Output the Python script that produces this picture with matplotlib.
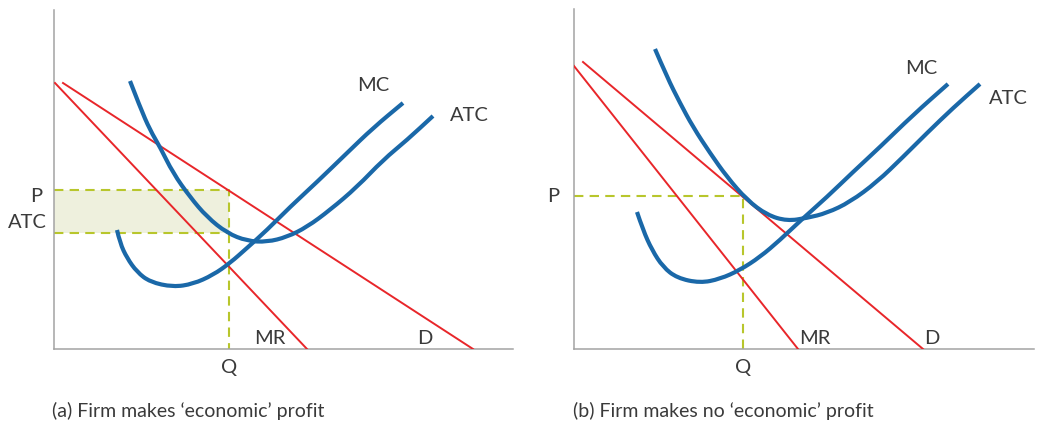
import matplotlib
matplotlib.use("Agg")
import matplotlib.pyplot as plt
from matplotlib.path import Path
from matplotlib.patches import PathPatch

# ---- panel (a): firm makes economic profit ----
a_atc_x = [76, 86, 96, 106, 119, 136, 153, 173, 193, 213, 233, 253, 276, 303, 329, 353, 379]
a_atc_y = [268, 242, 219, 202, 176, 152, 132, 116, 108, 107, 112, 122, 139, 162, 189, 209, 233]
a_mc_x = [63, 66, 73, 83, 96, 119, 139, 159, 176, 193, 213, 236, 263, 293, 319, 349]
a_mc_y = [119, 106, 91, 77, 67, 62, 65, 74, 86, 101, 119, 142, 167, 196, 221, 246]
a_d_x, a_d_y = [9, 419], [266, 0]
a_mr_x, a_mr_y = [1, 253], [266, 0]
a_p, a_atc_level, a_q = 159, 116, 175

# ---- panel (b): firm makes no economic profit ----
b_atc_x = [81, 93, 106, 119, 136, 153, 173, 193, 213, 233, 253, 276, 303, 329, 353, 379, 406]
b_atc_y = [300, 272, 246, 222, 196, 172, 149, 134, 128, 131, 136, 147, 167, 192, 216, 241, 265]
b_mc_x = [63, 69, 78, 89, 103, 126, 146, 166, 186, 206, 226, 253, 279, 306, 339, 374]
b_mc_y = [137, 119, 99, 82, 71, 66, 70, 79, 92, 109, 128, 152, 177, 202, 234, 265]
b_d_x, b_d_y = [9, 349], [287, 0]
b_mr_x, b_mr_y = [0, 224], [283, 0]
b_p, b_q = 153, 169

blue = "#1a68a8"
red = "#e8262a"
green = "#b8c62c"
fill = "#eef0dd"
grey = "#a3a3a3"
txt = "#3a3a3a"

plt.rcParams["font.family"] = ["Lato", "DejaVu Sans"]

W, H = 1037, 422
fig = plt.figure(figsize=(W / 100, H / 100), dpi=100)
fig.patch.set_facecolor("white")


def make_ax(left, bottom, width, height):
    ax = fig.add_axes([left / W, (H - bottom) / H, width / W, height / H])
    ax.set_xlim(0, width)
    ax.set_ylim(0, height)
    for s in ["top", "right"]:
        ax.spines[s].set_visible(False)
    for s in ["left", "bottom"]:
        ax.spines[s].set_color(grey)
        ax.spines[s].set_linewidth(1.1)
    ax.set_xticks([])
    ax.set_yticks([])
    ax.patch.set_alpha(0)
    return ax


def smooth_curve(ax, xs, ys, **kw):
    # quadratic bezier through midpoints, so the cost curves come out smooth
    pts = list(zip(xs, ys))
    verts = [pts[0]]
    codes = [Path.MOVETO]
    for i in range(1, len(pts) - 1):
        mid = ((pts[i][0] + pts[i + 1][0]) / 2, (pts[i][1] + pts[i + 1][1]) / 2)
        verts += [pts[i], mid]
        codes += [Path.CURVE3, Path.CURVE3]
    verts.append(pts[-1])
    codes.append(Path.LINETO)
    ax.add_patch(PathPatch(Path(verts, codes), fill=False, **kw))


dash = (0, (4.5, 3))
lab = dict(fontsize=14.5, color=txt, ha="center", va="center")
curve = dict(edgecolor=blue, lw=3, capstyle="butt", joinstyle="round", zorder=4)

# panel (a)
ax1 = make_ax(54, 349, 459, 339)
ax1.fill_between([0, a_q], a_atc_level, a_p, color=fill, lw=0, zorder=1)
ax1.plot([0, a_q, a_q], [a_p, a_p, 0], color=green, lw=1.5, ls=dash, zorder=2)
ax1.plot([0, a_q], [a_atc_level, a_atc_level], color=green, lw=1.5, ls=dash, zorder=2)
ax1.plot(a_mr_x, a_mr_y, color=red, lw=1.4, zorder=3)
ax1.plot(a_d_x, a_d_y, color=red, lw=1.4, zorder=3)
smooth_curve(ax1, a_atc_x, a_atc_y, **curve)
smooth_curve(ax1, a_mc_x, a_mc_y, **curve)
ax1.text(319, 263, "MC", **lab)
ax1.text(415, 233, "ATC", **lab)
ax1.text(216, 11, "MR", **lab)
ax1.text(371, 11, "D", **lab)
ax1.text(a_q, -19, "Q", clip_on=False, **lab)
ax1.text(-18, 152, "P", clip_on=False, **lab)
ax1.text(-27, 126, "ATC", clip_on=False, **lab)

# panel (b)
ax2 = make_ax(574, 349, 460, 340)
ax2.plot([0, b_q, b_q], [b_p, b_p, 0], color=green, lw=1.5, ls=dash, zorder=2)
ax2.plot(b_mr_x, b_mr_y, color=red, lw=1.4, zorder=3)
ax2.plot(b_d_x, b_d_y, color=red, lw=1.4, zorder=3)
smooth_curve(ax2, b_atc_x, b_atc_y, **curve)
smooth_curve(ax2, b_mc_x, b_mc_y, **curve)
ax2.text(347, 281, "MC", **lab)
ax2.text(434, 251, "ATC", **lab)
ax2.text(241, 11, "MR", **lab)
ax2.text(358, 11, "D", **lab)
ax2.text(b_q, -19, "Q", clip_on=False, **lab)
ax2.text(-21, 152, "P", clip_on=False, **lab)

fig.text(52 / W, 1 - 411 / H, "(a) Firm makes \u2018economic\u2019 profit",
         fontsize=14, color=txt, ha="left", va="center")
fig.text(573 / W, 1 - 411 / H, "(b) Firm makes no \u2018economic\u2019 profit",
         fontsize=14, color=txt, ha="left", va="center")

fig.savefig("out.png", dpi=100, facecolor="white")
